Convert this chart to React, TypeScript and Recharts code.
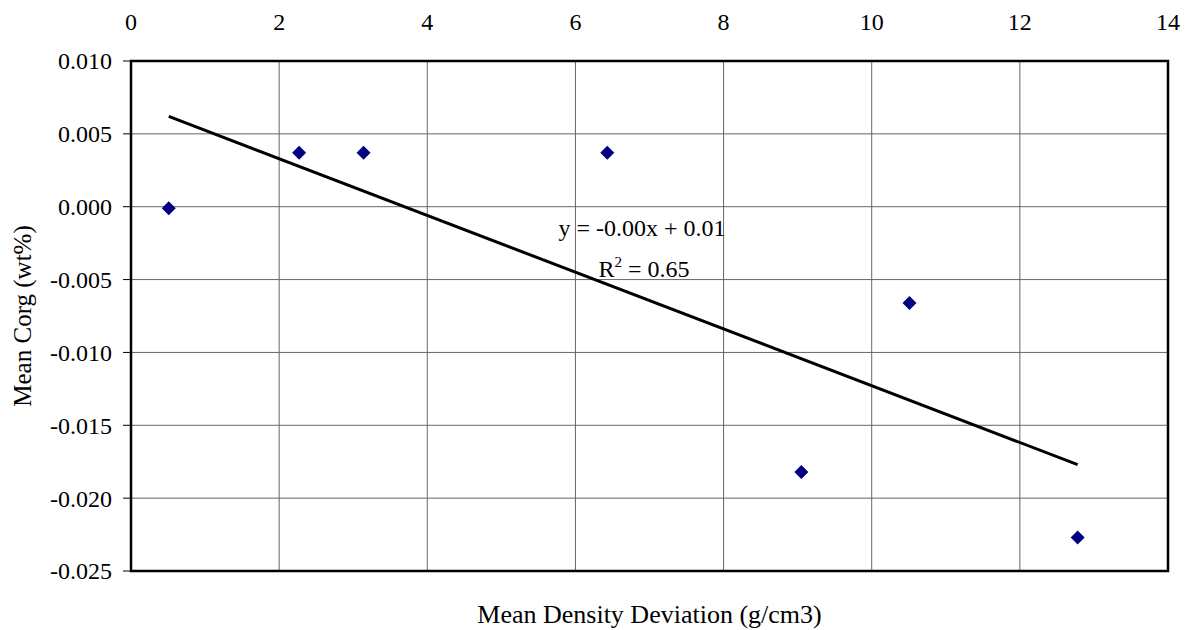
import React from 'react'
import {
  ScatterChart, Scatter, XAxis, YAxis, CartesianGrid, ReferenceArea,
} from 'recharts'

// mean density deviation (g/cm3) vs mean Corg (wt%)
const densityDev = [0.51, 2.27, 3.14, 6.43, 9.05, 10.51, 12.78]
const corg = [-0.0001, 0.0037, 0.0037, 0.0037, -0.0182, -0.0066, -0.0227]

// linear trend endpoints as drawn
const trendX = [0.51, 12.78]
const trendY = [0.0062, -0.0177]

const xTicks = [0, 2, 4, 6, 8, 10, 12, 14]
const yTicks = [0.01, 0.005, 0, -0.005, -0.01, -0.015, -0.02, -0.025]

const points = densityDev.map((x, i) => ({ x, y: corg[i] }))
const trend = trendX.map((x, i) => ({ x, y: trendY[i] }))

const FONT = '"Liberation Serif", "Times New Roman", serif'
const FS = 24

const Diamond = (p: any) => {
  const { cx, cy } = p
  const r = 7
  return <path d={`M${cx},${cy - r}L${cx + r},${cy}L${cx},${cy + r}L${cx - r},${cy}Z`} fill="#000080" />
}

const TopTick = (p: any) => (
  <text x={p.x} y={p.y} textAnchor="middle" fontFamily={FONT} fontSize={FS} fill="#000">
    {p.payload.value}
  </text>
)

const LeftTick = (p: any) => (
  <text x={p.x} y={p.y} dy="0.35em" textAnchor="end" fontFamily={FONT} fontSize={FS} fill="#000">
    {Number(p.payload.value).toFixed(3)}
  </text>
)

export default function App() {
  return (
    <div style={{ position: 'absolute', left: 0, top: 0, width: 1190, height: 630, background: '#fff', fontFamily: FONT }}>
      <ScatterChart width={1190} height={630} margin={{ top: 21, right: 22, left: 10, bottom: 0 }}>
        <CartesianGrid stroke="#666" strokeWidth={1} />
        <XAxis type="number" dataKey="x" orientation="top" domain={[0, 14]} ticks={xTicks}
          height={40} tick={<TopTick />} axisLine={false} tickLine={false} tickSize={6} tickMargin={25} />
        <XAxis xAxisId="bottom" type="number" orientation="bottom" domain={[0, 14]} height={59}
          tick={false} axisLine={false} tickLine={false}
          label={{ value: 'Mean Density Deviation (g/cm3)', position: 'insideBottom', offset: 7,
            style: { fill: '#000', fontSize: 26, fontFamily: FONT } }} />
        <YAxis type="number" dataKey="y" domain={[-0.025, 0.01]} ticks={yTicks} width={121}
          tick={<LeftTick />} axisLine={false} tickLine={{ stroke: '#000', strokeWidth: 1 }}
          tickSize={8} tickMargin={11}
          label={{ value: 'Mean Corg (wt%)', angle: -90, position: 'insideLeft', offset: 12,
            style: { fill: '#000', fontSize: 25, fontFamily: FONT, textAnchor: 'middle' } }} />
        <ReferenceArea x1={0} x2={14} y1={-0.025} y2={0.01} fill="none" fillOpacity={0}
          stroke="#000" strokeWidth={2.5} ifOverflow="visible" />
        <Scatter data={trend} isAnimationActive={false} line={{ stroke: '#000', strokeWidth: 3 }}
          shape={() => <g />} />
        <Scatter data={points} isAnimationActive={false} shape={Diamond} />
      </ScatterChart>
      <svg width={1190} height={630} style={{ position: 'absolute', left: 0, top: 0, pointerEvents: 'none' }}>
        <text x={642} y={236} textAnchor="middle" fontFamily={FONT} fontSize={FS} fill="#000">y = -0.00x + 0.01</text>
        <text x={644} y={277} textAnchor="middle" fontFamily={FONT} fontSize={FS} fill="#000">
          R<tspan fontSize={15} dy={-10}>2</tspan><tspan dy={10}> = 0.65</tspan>
        </text>
      </svg>
    </div>
  )
}
